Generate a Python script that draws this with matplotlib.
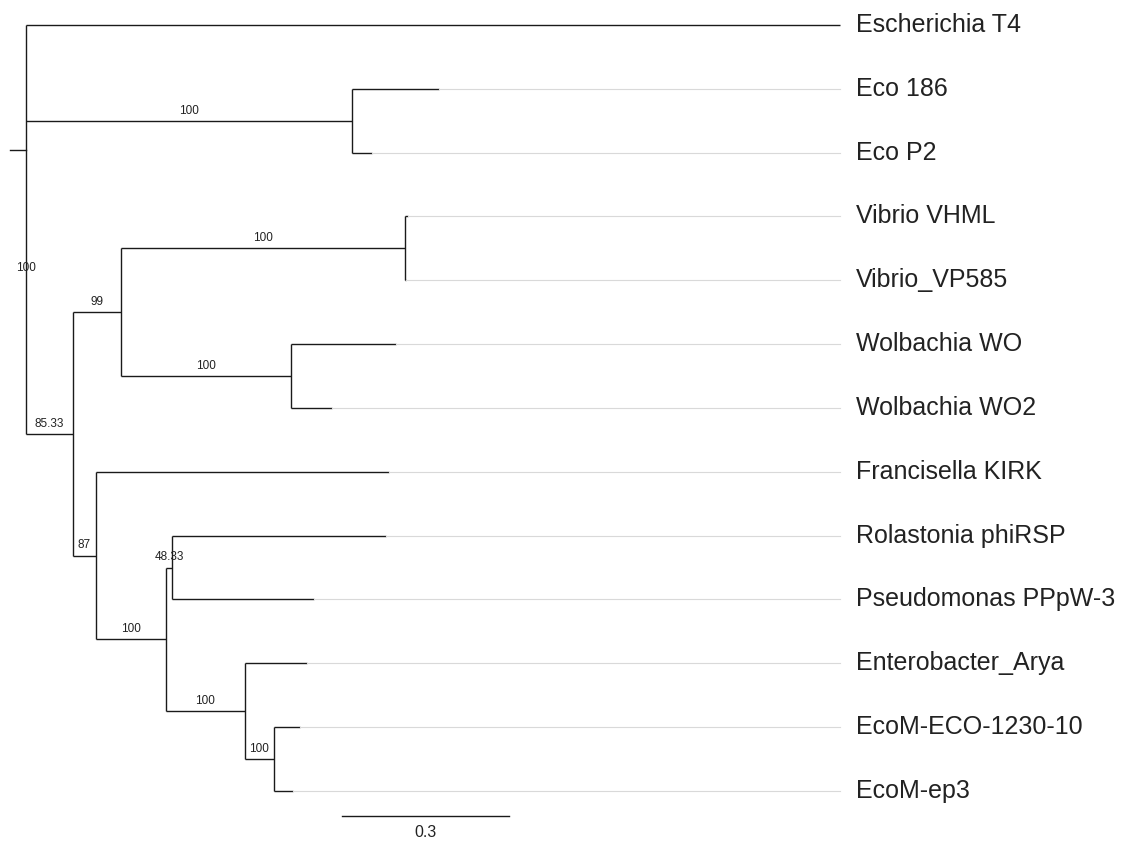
import matplotlib
matplotlib.use('Agg')
import matplotlib.pyplot as plt

plt.rcParams['font.family'] = ['Liberation Sans', 'DejaVu Sans']

# Árvore: nós em pré-ordem, pai de cada nó, comprimento do ramo e suporte
nomes = ['', 'Escherichia T4', '', 'Eco 186', 'Eco P2', '', '', '',
         'Vibrio VHML', 'Vibrio_VP585', '', 'Wolbachia WO', 'Wolbachia WO2',
         '', 'Francisella KIRK', '', '', 'Rolastonia phiRSP',
         'Pseudomonas PPpW-3', '', 'Enterobacter_Arya', '',
         'EcoM-ECO-1230-10', 'EcoM-ep3']
pais = [-1, 0, 0, 2, 2, 0, 5, 6, 7, 7, 6, 10, 10, 5, 13, 13, 15, 16, 16,
        15, 19, 19, 21, 21]
ramos = [0.0, 1.465, 0.586, 0.157, 0.036, 0.084, 0.086, 0.511, 0.006, 0.003,
         0.306, 0.189, 0.074, 0.041, 0.527, 0.126, 0.012, 0.384, 0.254,
         0.142, 0.112, 0.053, 0.047, 0.034]
suporte = ['', '', '100', '', '', '85.33', '99', '100', '', '', '100', '', '',
           '87', '', '100', '48.33', '', '', '100', '', '100', '', '']
suporte_raiz = '100'
y_suporte_raiz = 3.8   # posição do rótulo da raiz (em unidades de folha)
y_raiz = 1.96          # altura do traço da raiz
comp_raiz = 0.03
escala = 0.3

cor_ramo = '#1a1a1a'
cor_guia = '#d9d9d9'
cor_texto = '#222222'

n = len(nomes)
filhos = {i: [] for i in range(n)}
for i, p in enumerate(pais):
    if p >= 0:
        filhos[p].append(i)

# posição x acumulada
xs = [0.0] * n
for i in range(1, n):
    xs[i] = xs[pais[i]] + ramos[i]

# posição y: folhas em ordem, internos no meio dos filhos extremos
ys = [0.0] * n
folhas = [i for i in range(n) if not filhos[i]]
for k, f in enumerate(folhas):
    ys[f] = k
for i in reversed(range(n)):
    if filhos[i]:
        ys[i] = (ys[filhos[i][0]] + ys[filhos[i][-1]]) / 2
x_alinhado = max(xs[f] for f in folhas)

fig = plt.figure(figsize=(11.22, 8.41), dpi=100)
ax = fig.add_axes([0, 0, 1, 1])

for i in range(1, n):
    p = pais[i]
    ax.plot([xs[p], xs[i]], [ys[i], ys[i]], color=cor_ramo, lw=1.0,
            solid_capstyle='butt')
    if suporte[i]:
        ax.annotate(suporte[i], ((xs[p] + xs[i]) / 2, ys[i]),
                    xytext=(0, 3), textcoords='offset points',
                    ha='center', va='bottom', fontsize=8.5, color=cor_texto)
for i in range(n):
    if filhos[i]:
        ax.plot([xs[i], xs[i]], [ys[filhos[i][0]], ys[filhos[i][-1]]],
                color=cor_ramo, lw=1.0, solid_capstyle='butt')

# traço da raiz
ax.plot([-comp_raiz, 0], [y_raiz, y_raiz], color=cor_ramo, lw=1.0)
ax.text(0, y_suporte_raiz, suporte_raiz, ha='center', va='center',
        fontsize=8.5, color=cor_texto)

# guias até os nomes
for f in folhas:
    if xs[f] < x_alinhado:
        ax.plot([xs[f], x_alinhado], [ys[f], ys[f]], color=cor_guia, lw=0.8)
    ax.annotate(nomes[f], (x_alinhado, ys[f]), xytext=(11, 0),
                textcoords='offset points', ha='left', va='center',
                fontsize=18, color=cor_texto)

# barra de escala
y_escala = len(folhas) - 1 + 0.4
ax.plot([0.569, 0.569 + escala], [y_escala, y_escala], color=cor_ramo, lw=1.0)
ax.annotate(f'{escala}', (0.569 + escala / 2, y_escala), xytext=(0, -6),
            textcoords='offset points', ha='center', va='top',
            fontsize=11.5, color=cor_texto)

ax.set_xlim(-26.3 / 555.6, (1122 - 26.3) / 555.6)
ax.set_ylim((841 - 25) / 63.83, -25 / 63.83)
ax.axis('off')

fig.savefig('out.png', dpi=100, facecolor='white')
